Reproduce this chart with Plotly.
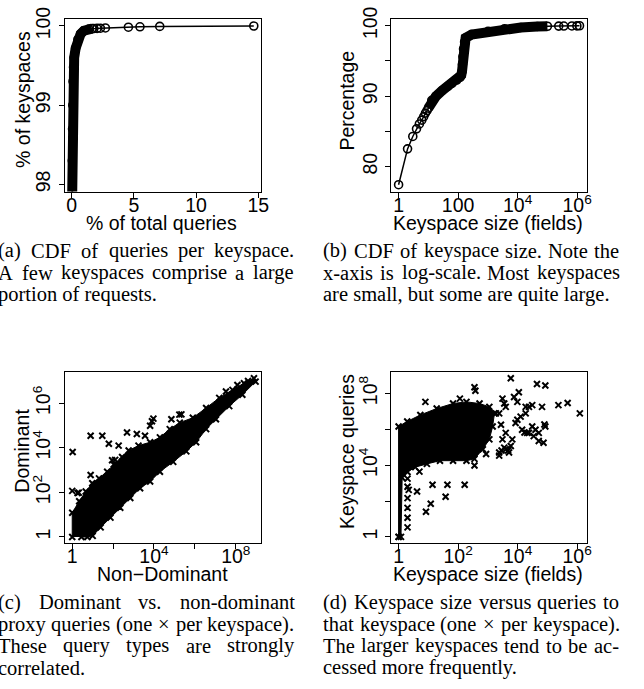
import numpy as np
import plotly.graph_objects as go

W, H = 644, 689

# ---------------- data ----------------
a_pct_total_queries = [0.04, 0.05, 0.07, 0.09, 0.11, 0.15, 0.20, 0.32, 0.50, 0.72, 0.98, 1.38, 1.64,
                       1.78, 2.04, 2.31, 2.71, 4.56, 5.49, 7.08, 14.64]
a_pct_keyspaces = [97.85, 98.3, 98.7, 99.0, 99.3, 99.48, 99.6, 99.72, 99.83, 99.9, 99.94, 99.96, 99.967,
                   99.968, 99.970, 99.972, 99.975, 99.985, 99.99, 99.995, 100.0]
a_dense_n = 13

b_keyspace_size = [1, 2, 3, 4, 5, 6, 7, 8, 9, 10, 13, 18, 29, 45, 62, 90, 117, 128, 135, 140, 145,
                   152, 165, 179, 283, 1014, 3630, 12900, 45800, 100000, 240000, 355000, 666000,
                   980000, 1200000]
b_percentage = [77.43, 82.52, 84.28, 85.36, 86.06, 86.6, 87.1, 87.6, 87.95, 88.3, 89.4, 90.0, 90.8,
                91.4, 91.83, 92.3, 92.67, 93.0, 93.5, 94.5, 95.6, 96.7, 97.7, 98.27, 98.74, 99.2,
                99.58, 99.76, 99.9, 99.93, 99.95, 99.96, 99.97, 99.985, 100.0]
b_dense_start, b_dense_end = 9, 30

c_mass_nondom_log10 = [0.0, 0.0, 0.34, 0.66, 0.98, 1.31, 1.71, 2.03, 2.44, 2.76, 3.24, 3.81, 4.29,
                       4.77, 5.26, 5.90, 6.55, 7.19, 7.84, 8.40, 8.89, 8.97, 8.32, 7.68, 7.03, 6.55,
                       6.06, 5.58, 4.94, 4.29, 3.81, 3.32, 2.84, 2.35, 1.87, 1.39, 1.00, 0.74, 0.45]
c_mass_dom_log10 = [0.0, 1.09, 1.60, 2.04, 2.41, 2.63, 2.93, 3.25, 3.59, 3.88, 4.10, 4.25, 4.47,
                    4.84, 5.13, 5.35, 5.79, 6.24, 6.60, 6.90, 7.12, 6.97, 6.38, 5.87, 5.28, 4.84,
                    4.25, 3.84, 3.37, 2.93, 2.49, 2.19, 1.75, 1.31, 0.87, 0.43, 0.05, 0.0, 0.0]
c_out_nondom_log10 = [0.02, 0.0, 0.26, 0.32, 0.90, 1.47, 1.79, 2.27, 1.95, 2.10, 2.68, 3.16, 3.56,
                      3.81, 3.97, 3.90, 4.85, 5.34, 5.24, 0.90, 7.52, 8.08, 8.60]
c_out_dom_log10 = [3.81, 2.07, 1.97, 1.99, 4.54, 4.54, 4.18, 4.10, 3.44, 3.46, 4.69, 4.62, 4.54,
                   4.99, 5.31, 5.19, 5.28, 5.50, 5.49, 2.78, 6.53, 6.82, 7.00]

d_mass_size_log10 = [0.0, 0.0, 0.29, 0.73, 1.28, 1.83, 2.28, 2.72, 3.05, 3.22, 3.16, 3.05, 2.83,
                     2.55, 2.28, 1.83, 1.39, 0.95, 0.56, 0.30, 0.12, 0.08]
d_mass_queries_log10 = [0.0, 6.16, 6.44, 6.80, 7.16, 7.44, 7.53, 7.44, 7.25, 6.89, 6.16, 5.44, 4.89,
                        4.35, 4.25, 4.25, 4.25, 4.07, 3.89, 3.62, 3.30, 0.0]
d_out_size_log10 = [3.77, 4.65, 4.93, 4.04, 3.88, 2.55, 2.58, 0.90, 2.06, 3.49, 3.99, 4.27, 3.55,
                    3.38, 4.10, 4.27, 4.49, 4.82, 5.37, 5.68, 6.09, 4.15, 4.38, 3.82, 3.55, 3.71,
                    4.71, 4.71, 4.87, 4.93, 4.49, 4.60, 4.54, 4.90, 4.23, 3.68, 3.46, 3.60, 3.93,
                    3.44, 3.77, 3.38, 2.94, 2.55, 0.70, 1.14, 1.64, 2.22, 1.58, 1.08, 0.92, 0.62,
                    0.34, 0.30, 0.30, 0.30, 0.30, 0.30, 0.30, 0.0,
                    3.60, 3.27, 3.49, 3.60, 3.38, 3.99, 4.38, 4.32]
d_out_queries_log10 = [8.85, 8.53, 8.44, 8.07, 7.80, 8.35, 8.15, 7.53, 7.71, 7.71, 7.53, 7.25, 7.44,
                       6.89, 6.71, 6.89, 7.35, 7.25, 7.35, 7.47, 6.89, 5.98, 5.80, 5.44, 4.98, 4.71,
                       5.80, 5.35, 5.25, 6.16, 6.16, 5.98, 5.62, 6.27, 5.82, 4.82, 4.82, 5.80, 6.35,
                       6.25, 5.07, 4.71, 4.62, 3.98, 3.64, 2.91, 2.91, 2.91, 2.24, 1.85, 1.40, 2.53,
                       2.62, 3.25, 2.80, 2.16, 1.62, 1.07, 0.53, 0.0,
                       7.25, 6.89, 5.44, 4.89, 4.53, 6.53, 7.25, 5.80]

a_x_ticks = [0, 5, 10, 15]
a_y_ticks = [98, 99, 100]
b_x_ticks, b_x_text = [1, 100, 1e4, 1e6], ["1", "100", "10<sup>4</sup>", "10<sup>6</sup>"]
b_y_ticks, b_y_text = [80, 85, 90, 95, 100], ["80", "", "90", "", "100"]
c_x_ticks, c_x_text = [1, 1e2, 1e4, 1e6, 1e8], ["1", "", "10<sup>4</sup>", "", "10<sup>8</sup>"]
c_y_ticks, c_y_text = [1, 1e2, 1e4, 1e6], ["1", "10<sup>2</sup>", "10<sup>4</sup>", "10<sup>6</sup>"]
d_x_ticks, d_x_text = [1, 1e2, 1e4, 1e6], ["1", "10<sup>2</sup>", "10<sup>4</sup>", "10<sup>6</sup>"]
d_y_ticks, d_y_text = [1, 1e2, 1e4, 1e6, 1e8], ["1", "", "10<sup>4</sup>", "", "10<sup>8</sup>"]

captions = {
    "a": ["(a) CDF of queries per keyspace.", "A few keyspaces comprise a large", "portion of requests."],
    "b": ["(b) CDF of keyspace size. Note the", "x-axis is log-scale. Most keyspaces",
          "are small, but some are quite large."],
    "c": ["(c) Dominant vs. non-dominant", "proxy queries (one \u00d7 per keyspace).",
          "These query types are strongly", "correlated."],
    "d": ["(d) Keyspace size versus queries to", "that keyspace (one \u00d7 per keyspace).",
          "The larger keyspaces tend to be ac-", "cessed more frequently."],
}

SANS = "Liberation Sans, Arial, Helvetica, sans-serif"
SERIF = "Liberation Serif, Times New Roman, serif"
AX_FS = 19.5
CAP_FS = 20.5
BLACK = "black"
ANN_SHIFT = 6.5   # empirical text-box offset correction (page frame, vertical)

fig = go.Figure()
fig.add_trace(go.Scatter(x=a_pct_total_queries[:a_dense_n], y=a_pct_keyspaces[:a_dense_n],
                         mode="lines", line=dict(color=BLACK, width=10),
                         xaxis="x", yaxis="y", hoverinfo="skip"))
fig.add_trace(go.Scatter(x=a_pct_total_queries, y=a_pct_keyspaces, mode="lines+markers",
                         line=dict(color=BLACK, width=1.5),
                         marker=dict(symbol="circle-open", size=8, color=BLACK,
                                     line=dict(width=1.6, color=BLACK)),
                         xaxis="x", yaxis="y"))
fig.add_trace(go.Scatter(x=b_keyspace_size[b_dense_start:b_dense_end],
                         y=b_percentage[b_dense_start:b_dense_end],
                         mode="lines", line=dict(color=BLACK, width=10),
                         xaxis="x2", yaxis="y2", hoverinfo="skip"))
fig.add_trace(go.Scatter(x=b_keyspace_size, y=b_percentage, mode="lines+markers",
                         line=dict(color=BLACK, width=1.5),
                         marker=dict(symbol="circle-open", size=8, color=BLACK,
                                     line=dict(width=1.6, color=BLACK)),
                         xaxis="x2", yaxis="y2"))
xmark = dict(symbol="x-thin", size=6, color=BLACK, line=dict(width=2, color=BLACK))
fig.add_trace(go.Scatter(x=10 ** np.array(c_mass_nondom_log10), y=10 ** np.array(c_mass_dom_log10),
                         mode="lines+markers", fill="toself", fillcolor=BLACK,
                         line=dict(color=BLACK, width=1), marker=xmark, xaxis="x3", yaxis="y3"))
fig.add_trace(go.Scatter(x=10 ** np.array(c_out_nondom_log10), y=10 ** np.array(c_out_dom_log10),
                         mode="markers", marker=xmark, xaxis="x3", yaxis="y3"))
fig.add_trace(go.Scatter(x=10 ** np.array(d_mass_size_log10), y=10 ** np.array(d_mass_queries_log10),
                         mode="lines+markers", fill="toself", fillcolor=BLACK,
                         line=dict(color=BLACK, width=1), marker=xmark, xaxis="x4", yaxis="y4"))
fig.add_trace(go.Scatter(x=10 ** np.array(d_out_size_log10), y=10 ** np.array(d_out_queries_log10),
                         mode="markers", marker=xmark, xaxis="x4", yaxis="y4"))


def ax(domain, rng, tickvals, ticktext=None, log=False, yaxis=False, anchor=None):
    d = dict(domain=domain, range=rng, tickmode="array", tickvals=tickvals,
             ticks="outside", ticklen=5, tickwidth=1, tickcolor=BLACK,
             showline=True, linecolor=BLACK, linewidth=1, mirror=True,
             showgrid=False, zeroline=False, anchor=anchor, ticklabeloverflow="allow",
             tickfont=dict(family=SANS, size=AX_FS, color=BLACK))
    if ticktext is not None:
        d["ticktext"] = ticktext
    if log:
        d["type"] = "log"
    if yaxis:
        d["tickangle"] = -90
        d["ticklabelstandoff"] = 1
    else:
        d["ticklabelstandoff"] = -9
    return d


def px_x(p):
    return p / W


def px_y(p):
    return 1 - p / H


top_dom = [px_y(183), px_y(7)]
bot_dom = [px_y(541), px_y(366.5)]
left_dom = [px_x(66), px_x(264.2)]
right_dom = [px_x(397), px_x(595.3)]

fig.update_layout(
    width=W, height=H, margin=dict(l=0, r=0, t=0, b=0),
    paper_bgcolor="white", plot_bgcolor="white", showlegend=False,
    xaxis=ax(left_dom, [-0.53, 15.18], a_x_ticks, anchor="y"),
    yaxis=ax(top_dom, [97.91, 100.09], a_y_ticks, yaxis=True, anchor="x"),
    xaxis2=ax(right_dom, [-0.24, 6.33], b_x_ticks, b_x_text, log=True, anchor="y2"),
    yaxis2=ax(top_dom, [76.46, 100.98], b_y_ticks, b_y_text, yaxis=True, anchor="x2"),
    xaxis3=ax(left_dom, [-0.35, 9.21], c_x_ticks, c_x_text, log=True, anchor="y3"),
    yaxis3=ax(bot_dom, [-0.26, 7.42], c_y_ticks, c_y_text, log=True, yaxis=True, anchor="x3"),
    xaxis4=ax(right_dom, [-0.24, 6.33], d_x_ticks, d_x_text, log=True, anchor="y4"),
    yaxis4=ax(bot_dom, [-0.33, 9.22], d_y_ticks, d_y_text, log=True, yaxis=True, anchor="x4"),
)

annotations = []


def add_text(text, x, y, font, size, angle=0, xanchor="center"):
    y = y - ANN_SHIFT
    annotations.append(dict(text=text, x=px_x(x), y=px_y(y), xref="paper", yref="paper",
                            showarrow=False, xanchor=xanchor, yanchor="middle",
                            textangle=angle, borderpad=0, borderwidth=0,
                            font=dict(family=font, size=size, color=BLACK)))


add_text("% of total queries", 164, 221.6, SANS, AX_FS)
add_text("Keyspace size (fields)", 494.7, 221.6, SANS, AX_FS)
add_text("Non\u2212Dominant", 165, 579.2, SANS, AX_FS)
add_text("Keyspace size (fields)", 494.5, 579.2, SANS, AX_FS)
add_text("% of keyspaces", 22.6, 95.8, SANS, AX_FS, angle=-90)
add_text("Percentage", 352, 96.7, SANS, AX_FS, angle=-90)
add_text("Dominant", 22.6, 453.3, SANS, AX_FS, angle=-90)
add_text("Keyspace queries", 352, 455, SANS, AX_FS, angle=-90)

TW = {' ': 250, '(': 333, ')': 333, '-': 333, '.': 250, ',': 250, '\u00d7': 564,
      'A': 722, 'B': 667, 'C': 667, 'D': 722, 'E': 611, 'F': 556, 'G': 722, 'H': 722, 'I': 333,
      'J': 389, 'K': 722, 'L': 611, 'M': 889, 'N': 722, 'O': 722, 'P': 556, 'Q': 722, 'R': 667,
      'S': 556, 'T': 611, 'U': 722, 'V': 722, 'W': 944, 'X': 722, 'Y': 722, 'Z': 611,
      'a': 444, 'b': 500, 'c': 444, 'd': 500, 'e': 444, 'f': 333, 'g': 500, 'h': 500, 'i': 278,
      'j': 278, 'k': 500, 'l': 278, 'm': 778, 'n': 500, 'o': 500, 'p': 500, 'q': 500, 'r': 333,
      's': 389, 't': 278, 'u': 500, 'v': 500, 'w': 722, 'x': 500, 'y': 500, 'z': 444}


def wwidth(w):
    return sum(TW.get(ch, 500) for ch in w) * CAP_FS / 1000.0


def caption(lines, x0, x1, baselines):
    for i, (line, base) in enumerate(zip(lines, baselines)):
        ymid = base - 0.3375 * CAP_FS
        words = line.split(" ")
        if i == len(lines) - 1 or len(words) == 1:
            add_text(line, x0, ymid, SERIF, CAP_FS, xanchor="left")
            continue
        widths = [wwidth(w) for w in words]
        gap = (x1 - x0 - sum(widths)) / (len(words) - 1)
        x = x0
        for w, wd in zip(words, widths):
            add_text(w, x, ymid, SERIF, CAP_FS, xanchor="left")
            x += wd + gap


top_base = [256.7, 279.0, 301.3]
bot_base = [615.0, 637.3, 659.6, 682.0]
caption(captions["a"], -2.0, 297.5, top_base)
caption(captions["b"], 327.8, 627.5, top_base)
caption(captions["c"], -2.0, 297.5, bot_base)
caption(captions["d"], 327.8, 627.5, bot_base)
fig.update_layout(annotations=annotations)

fig.write_html("out.html", config={"displayModeBar": False},
               post_script="document.body.style.margin='0';document.body.style.overflow='hidden';")
